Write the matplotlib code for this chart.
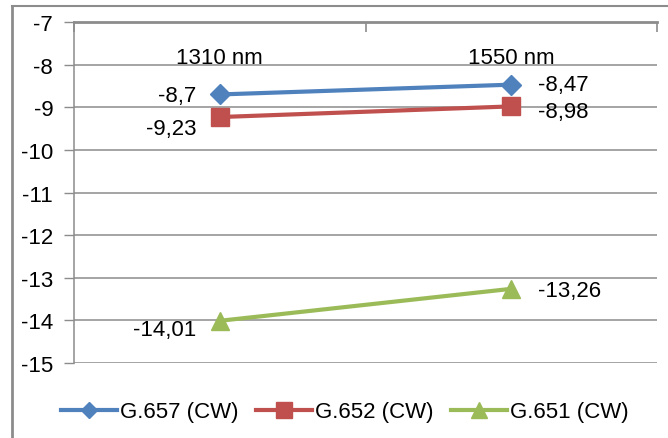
import matplotlib
matplotlib.use("Agg")
import matplotlib.pyplot as plt
from matplotlib.lines import Line2D
from matplotlib.transforms import blended_transform_factory

plt.rcParams['font.family'] = ['Liberation Sans', 'DejaVu Sans']

# Data
categories = ["1310 nm", "1550 nm"]
series_names = ["G.657 (CW)", "G.652 (CW)", "G.651 (CW)"]
g657 = [-8.70, -8.47]
g652 = [-9.23, -8.98]
g651 = [-14.01, -13.26]
value_labels = [["-8,7", "-8,47"], ["-9,23", "-8,98"], ["-14,01", "-13,26"]]
y_ticks = [-15, -14, -13, -12, -11, -10, -9, -8, -7]

colors = ["#4F81BD", "#C0504D", "#9BBB59"]
markers = ["D", "s", "^"]
msizes = [10, 13, 13]
# label offsets (points) for the left and right point of each series
offsets = [[(-17, -1), (19, 0)],
           [(-17, -8), (19, -4)],
           [(-17, -6), (19, -1)]]

grid_c = "#8C8C8C"
fs = 16

fig = plt.figure(figsize=(6.68, 4.39), dpi=100)
ax = fig.add_axes([74 / 668, 1 - 364 / 439, (657 - 74) / 668, (364 - 23) / 439])

x = list(range(len(categories)))
for vals, name, c, m, ms, labs, offs in zip([g657, g652, g651], series_names, colors,
                                            markers, msizes, value_labels, offsets):
    ax.plot(x, vals, color=c, lw=3, marker=m, markersize=ms, label=name,
            markeredgecolor=c, zorder=3)
    for xi, v, lab, (dx, dy) in zip(x, vals, labs, offs):
        ha = "right" if dx < 0 else "left"
        ax.annotate(lab, (xi, v), xytext=(dx, dy), textcoords="offset points",
                    ha=ha, va="center", fontsize=fs, color="black")

ax.set_xlim(-0.5, 1.5)
ax.set_ylim(-15, -7)
ax.set_yticks(y_ticks)
ax.set_yticklabels([str(t) for t in y_ticks])
ax.tick_params(axis="y", direction="out", length=7, width=1, color=grid_c,
               labelsize=fs, pad=8, labelcolor="black")
ax.grid(axis="y", color=grid_c, lw=1.1)
ax.set_axisbelow(True)

# Category axis at the top, with tick marks between categories
ax.xaxis.tick_top()
ax.set_xticks([-0.5, 0.5, 1.5])
ax.set_xticklabels([])
ax.tick_params(axis="x", direction="in", length=7, width=1.2, color=grid_c)
trans = blended_transform_factory(ax.transData, ax.transAxes)
for xi, cat in zip(x, categories):
    ax.text(xi, 0.895, cat, transform=trans, ha="center", va="center",
            fontsize=fs, color="black")

for side in ["right", "bottom"]:
    ax.spines[side].set_visible(False)
ax.spines["top"].set_color(grid_c)
ax.spines["top"].set_linewidth(2)
ax.spines["left"].set_color(grid_c)
ax.spines["left"].set_linewidth(1.1)

fig.legend(loc="center", bbox_to_anchor=(345 / 668, 1 - 413 / 439), ncol=3,
           frameon=False, fontsize=fs, handlelength=2.5, handletextpad=0.15,
           columnspacing=0.8, markerscale=0.85)

# Outer chart border (left and top)
fig.add_artist(Line2D([12 / 668, 12 / 668], [0, 1 - 7 / 439], transform=fig.transFigure,
                      color="#8C8C8C", lw=2))
fig.add_artist(Line2D([12 / 668, 1], [1 - 7 / 439, 1 - 7 / 439], transform=fig.transFigure,
                      color="#8C8C8C", lw=1.5))

fig.savefig("out.png", dpi=100)
